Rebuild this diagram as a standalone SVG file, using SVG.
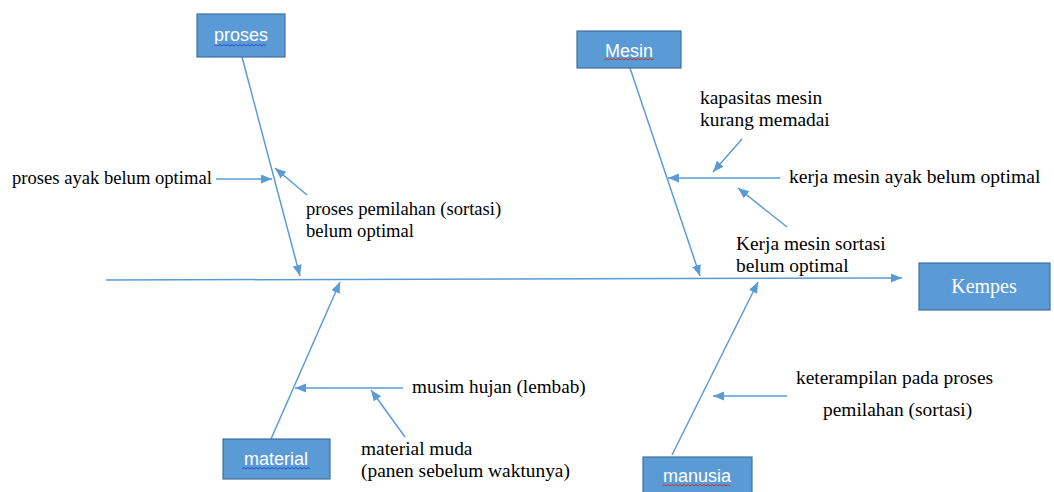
<svg xmlns="http://www.w3.org/2000/svg" width="1054" height="492" viewBox="0 0 1054 492">
<style>
.box{fill:#5B9BD5;stroke:#41719C;stroke-width:1.2}
.lbl{font-family:"Liberation Sans",Arial,sans-serif;font-size:18px;fill:#ffffff;text-anchor:middle}
.lbls{font-family:'Liberation Serif','DejaVu Serif',serif;font-size:20px;fill:#ffffff;text-anchor:middle}
.t{font-family:'Liberation Serif','DejaVu Serif',serif;font-size:18.6px;fill:#000000}
.t2{font-size:19.4px}
.cm{stroke:#5B9BD5;stroke-width:1.5;fill:none;marker-end:url(#ah)}
.wb{stroke:#2b4fd6;stroke-width:1;fill:none}
.wr{stroke:#c0392b;stroke-width:1;fill:none}
</style>
<defs>
<marker id="ah" markerUnits="userSpaceOnUse" markerWidth="12" markerHeight="10" refX="11" refY="4.5" orient="auto">
<path d="M0,0 L11,4.5 L0,9 z" fill="#5B9BD5"/>
</marker>
</defs>
<rect width="1054" height="492" fill="#ffffff"/>
<g id="connectors">
<line class="cm" x1="106" y1="280" x2="902" y2="278"/>
<line class="cm" x1="242" y1="57" x2="300" y2="276"/>
<line class="cm" x1="630" y1="68" x2="700" y2="276"/>
<line class="cm" x1="271" y1="439" x2="340" y2="282"/>
<line class="cm" x1="672" y1="455" x2="758" y2="282"/>
<line class="cm" x1="216" y1="179" x2="272" y2="179"/>
<line class="cm" x1="307" y1="195" x2="275" y2="168"/>
<line class="cm" x1="780" y1="178" x2="668" y2="178"/>
<line class="cm" x1="742" y1="139" x2="713" y2="172"/>
<line class="cm" x1="787" y1="227" x2="738" y2="188"/>
<line class="cm" x1="403" y1="388" x2="295" y2="388"/>
<line class="cm" x1="405" y1="437" x2="371" y2="390"/>
<line class="cm" x1="787" y1="396" x2="713" y2="396"/>
</g>
<g id="node-proses">
<rect class="box" x="197" y="14" width="88" height="43"/>
<text class="lbl" x="241" y="41">proses</text>
<path class="wb" d="M214,46 l2,-1.5 l2,1.5 l2,-1.5 l2,1.5 l2,-1.5 l2,1.5 l2,-1.5 l2,1.5 l2,-1.5 l2,1.5 l2,-1.5 l2,1.5 l2,-1.5 l2,1.5 l2,-1.5 l2,1.5 l2,-1.5 l2,1.5 l2,-1.5 l2,1.5 l2,-1.5 l2,1.5 l2,-1.5 l2,1.5 l2,-1.5 l2,1.5"/>
</g>
<g id="node-mesin">
<rect class="box" x="577" y="31" width="104" height="37"/>
<text class="lbl" x="629" y="57">Mesin</text>
<path class="wr" d="M604,60 l2,-1.5 l2,1.5 l2,-1.5 l2,1.5 l2,-1.5 l2,1.5 l2,-1.5 l2,1.5 l2,-1.5 l2,1.5 l2,-1.5 l2,1.5 l2,-1.5 l2,1.5 l2,-1.5 l2,1.5 l2,-1.5 l2,1.5 l2,-1.5 l2,1.5 l2,-1.5 l2,1.5 l2,-1.5 l2,1.5 l2,-1.5"/>
</g>
<g id="node-material">
<rect class="box" x="223" y="439" width="107" height="40"/>
<text class="lbl" x="276" y="465">material</text>
<path class="wb" d="M242,469 l2,-1.5 l2,1.5 l2,-1.5 l2,1.5 l2,-1.5 l2,1.5 l2,-1.5 l2,1.5 l2,-1.5 l2,1.5 l2,-1.5 l2,1.5 l2,-1.5 l2,1.5 l2,-1.5 l2,1.5 l2,-1.5 l2,1.5 l2,-1.5 l2,1.5 l2,-1.5 l2,1.5 l2,-1.5 l2,1.5 l2,-1.5 l2,1.5 l2,-1.5 l2,1.5 l2,-1.5 l2,1.5 l2,-1.5 l2,1.5 l2,-1.5 l2,1.5"/>
</g>
<g id="node-manusia">
<rect class="box" x="643" y="457" width="109" height="40"/>
<text class="lbl" x="697" y="482">manusia</text>
<path class="wr" d="M662,486 l2,-1.5 l2,1.5 l2,-1.5 l2,1.5 l2,-1.5 l2,1.5 l2,-1.5 l2,1.5 l2,-1.5 l2,1.5 l2,-1.5 l2,1.5 l2,-1.5 l2,1.5 l2,-1.5 l2,1.5 l2,-1.5 l2,1.5 l2,-1.5 l2,1.5 l2,-1.5 l2,1.5 l2,-1.5 l2,1.5 l2,-1.5 l2,1.5 l2,-1.5 l2,1.5 l2,-1.5 l2,1.5 l2,-1.5 l2,1.5 l2,-1.5 l2,1.5"/>
</g>
<g id="node-kempes">
<rect class="box" x="919" y="263" width="131" height="47"/>
<text class="lbls" x="984" y="293">Kempes</text>
</g>
<g id="labels">
<text class="t" x="12" y="184">proses ayak belum optimal</text>
<text class="t" x="306" y="215">proses pemilahan (sortasi)</text>
<text class="t" x="306" y="237">belum optimal</text>
<text class="t t2" x="700" y="104">kapasitas mesin</text>
<text class="t t2" x="700" y="126">kurang memadai</text>
<text class="t" x="789" y="183" style="font-size:19.6px">kerja mesin ayak belum optimal</text>
<text class="t t2" x="736" y="250">Kerja mesin sortasi</text>
<text class="t t2" x="736" y="272">belum optimal</text>
<text class="t" x="412" y="393" style="font-size:19.2px">musim hujan (lembab)</text>
<text class="t t2" x="361" y="455">material muda</text>
<text class="t t2" x="361" y="477">(panen sebelum waktunya)</text>
<text class="t t2" x="796" y="384">keterampilan pada proses</text>
<text class="t t2" x="823" y="416">pemilahan (sortasi)</text>
</g>
</svg>
